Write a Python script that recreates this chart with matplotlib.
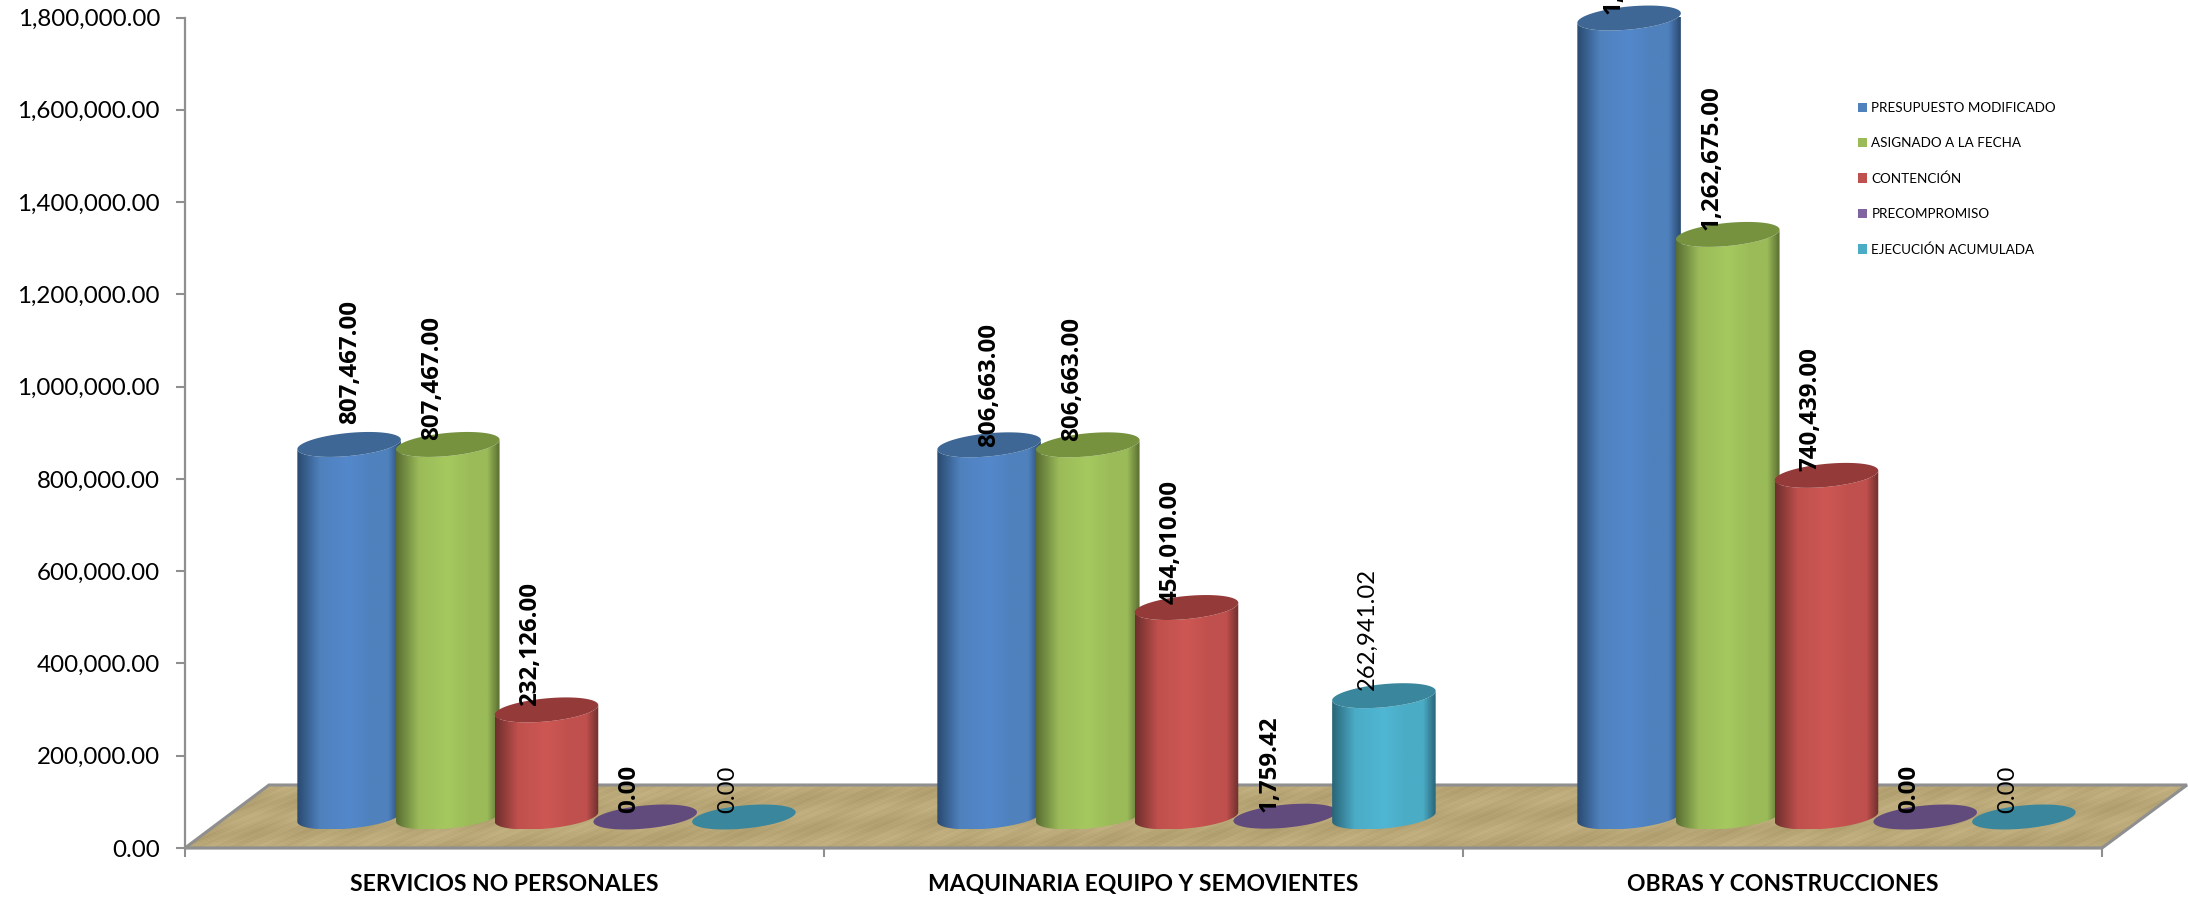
import numpy as np
from matplotlib import pyplot as plt
from matplotlib.colors import to_rgb
from matplotlib.patches import Patch, Polygon

plt.rcParams["font.family"] = ["Lato", "DejaVu Sans"]

categories = ["SERVICIOS NO PERSONALES", "MAQUINARIA EQUIPO Y SEMOVIENTES", "OBRAS Y CONSTRUCCIONES"]
series_names = ["PRESUPUESTO MODIFICADO", "ASIGNADO A LA FECHA", "CONTENCIÓN", "PRECOMPROMISO", "EJECUCIÓN ACUMULADA"]
presupuesto = [807467.00, 806663.00, 1731675.00]
asignado = [807467.00, 806663.00, 1262675.00]
contencion = [232126.00, 454010.00, 740439.00]
precompromiso = [0.00, 1759.42, 0.00]
ejecucion = [0.00, 262941.02, 0.00]
y_ticks = [0, 200000, 400000, 600000, 800000, 1000000, 1200000, 1400000, 1600000, 1800000]

W, H = 2188, 897
AX_L, AX_R, AX_T, AX_B = 185, 2102, 17.5, 848
PX_X = (AX_R - AX_L) / 3  # pixels per category
PX_Y = (AX_B - AX_T) / 1800000  # pixels per unit

main_cols = ["#4f81bd", "#9bbb59", "#c0504d", "#8064a2", "#4bacc6"]
bright_cols = ["#5388cc", "#a5c95f", "#cd5753", "#8064a2", "#4fb6d3"]
edge_cols = ["#2a4a70", "#5a6e33", "#6e2f2d", "#4e3d63", "#2a6578"]
top_cols = ["#3e6795", "#76923f", "#943a38", "#614a7c", "#39869d"]

# label tweaks (group, series): (dx px, gap px), others use the default
LABEL_NUDGE = {(0, 0): (1, 20), (1, 0): (0, -2), (1, 4): (-17, 6)}
BOLD = [True, True, True, True, False]

fig = plt.figure(figsize=(W / 100, H / 100), dpi=100)
ax = fig.add_axes([AX_L / W, 1 - AX_B / H, (AX_R - AX_L) / W, (AX_B - AX_T) / H])


def dx(px):
    return px / PX_X


def dy(px):
    return px / PX_Y


def ellipse_pts(cx, cy, t):
    a, b, th = 52, 11.5, np.radians(5.5)
    x = a * np.cos(t) * np.cos(th) - b * np.sin(t) * np.sin(th)
    y = a * np.cos(t) * np.sin(th) + b * np.sin(t) * np.cos(th)
    return cx + dx(x), cy + dy(y)


def draw_cylinder(cx, value, i, z):
    base = dy(31)
    top = value + base
    t = np.linspace(np.pi, 2 * np.pi, 60)
    bx, by = ellipse_pts(cx, base, t)
    tx, ty = ellipse_pts(cx, top, t[::-1])
    if value > 5000:
        body = Polygon(np.column_stack([np.r_[bx, tx], np.r_[by, ty]]), closed=True, fc="none", ec="none", zorder=z)
        ax.add_patch(body)
        stops = [0, 0.22, 0.5, 0.72, 0.88, 1]
        c0, c1, c2 = to_rgb(edge_cols[i]), to_rgb(main_cols[i]), to_rgb(bright_cols[i])
        cols = np.array([c0, c1, c2, c1, c1, c0])
        u = np.linspace(0, 1, 128)
        grad = np.column_stack([np.interp(u, stops, cols[:, k]) for k in range(3)])
        im = ax.imshow(grad[None, :, :], extent=[bx.min(), bx.max(), by.min(), ty.max()],
                       aspect="auto", zorder=z, interpolation="bilinear")
        im.set_clip_path(body)
    t2 = np.linspace(0, 2 * np.pi, 120)
    ex, ey = ellipse_pts(cx, top, t2)
    ax.fill(ex, ey, color=top_cols[i], lw=0, zorder=z + 0.1, clip_on=False)


def draw_floor():
    corners = [(-0.5, 0), (2.5, 0), (2.5 + dx(85), dy(63)), (-0.5 + dx(84), dy(63))]
    floor = Polygon(corners, closed=True, fc="none", ec="#8f8f8f", lw=2.2, zorder=1.1, clip_on=False)
    ax.add_patch(floor)
    # burlap weave made of crossed sine waves, with diagonal streaks
    yy, xx = np.mgrid[0:64, 0:2002]
    weave = (np.sin(xx * 0.83) * np.sin(yy * 1.7 + np.sin(xx * 0.05)) * 0.35
             + np.sin(xx * 0.37 + yy * 0.9) * 0.35 + np.sin(xx * 0.013 + yy * 0.21) * 0.6
             + np.sin(xx * 0.11 + yy * 0.17 + np.sin(xx * 0.007) * 3) * 0.4)
    base = np.array([0.725, 0.655, 0.47])
    tex = base[None, None, :] + weave[:, :, None] * 0.03
    im = ax.imshow(np.clip(tex, 0, 1), extent=[-0.5, 2.5 + dx(85), 0, dy(63)], aspect="auto",
                   zorder=1, interpolation="bilinear")
    clip = Polygon(corners, closed=True, transform=ax.transData, fc="none", ec="none")
    ax.add_patch(clip)
    im.set_clip_path(clip)
    im.set_clip_box(fig.bbox)


draw_floor()

all_series = [presupuesto, asignado, contencion, precompromiso, ejecucion]
for g in range(len(categories)):
    for i, vals in enumerate(all_series):
        # bars sit half way into the floor depth
        cx = g + dx(42 + g) + (i - 2) * dx(98.7)
        z = 2 + g + i * 0.2
        draw_cylinder(cx, vals[g], i, z)
        ldx, gap = LABEL_NUDGE.get((g, i), (-16, 4))
        if BOLD[i]:
            font = dict(family=["Open Sans", "DejaVu Sans"], fontweight="bold", fontsize=17.4)
        else:
            font = dict(fontweight="normal", fontsize=17.2)
        ax.annotate(f"{vals[g]:,.2f}", (cx, vals[g] + dy(31)), xytext=(ldx * 0.72, gap * 0.72),
                    textcoords="offset points", rotation=90, ha="center", va="bottom",
                    color="black", zorder=10, annotation_clip=False, **font)

ax.set_xlim(-0.5, 2.5)
ax.set_ylim(0, 1800000)
ax.set_yticks(y_ticks)
ax.set_yticklabels([f"{v:,.2f}" for v in y_ticks], fontsize=17.4)
ax.set_xticks([-0.5, 0.5, 1.5, 2.5])
ax.set_xticklabels([])
ax.set_xticks(range(3), minor=True)
ax.set_xticklabels(categories, minor=True, fontsize=16.5, fontweight="bold")
ax.tick_params(axis="x", which="minor", length=0, pad=19)
ax.tick_params(axis="both", which="major", color="#8f8f8f", width=1.5, length=6.5)
ax.tick_params(axis="y", pad=11.5)
for s in ["top", "right"]:
    ax.spines[s].set_visible(False)
for s in ["left", "bottom"]:
    ax.spines[s].set_color("#8f8f8f")
    ax.spines[s].set_linewidth(1.6)

handles = [Patch(fc=c, ec="none") for c in main_cols]
ax.legend(handles, series_names, loc="upper left", bbox_to_anchor=(1858 / W, 1 - 102 / H),
          bbox_transform=fig.transFigure, frameon=False, fontsize=9.7, handlelength=0.7, handleheight=0.7,
          handletextpad=0.3, labelspacing=1.72, borderpad=0, borderaxespad=0)

fig.savefig("out.png", dpi=100)
